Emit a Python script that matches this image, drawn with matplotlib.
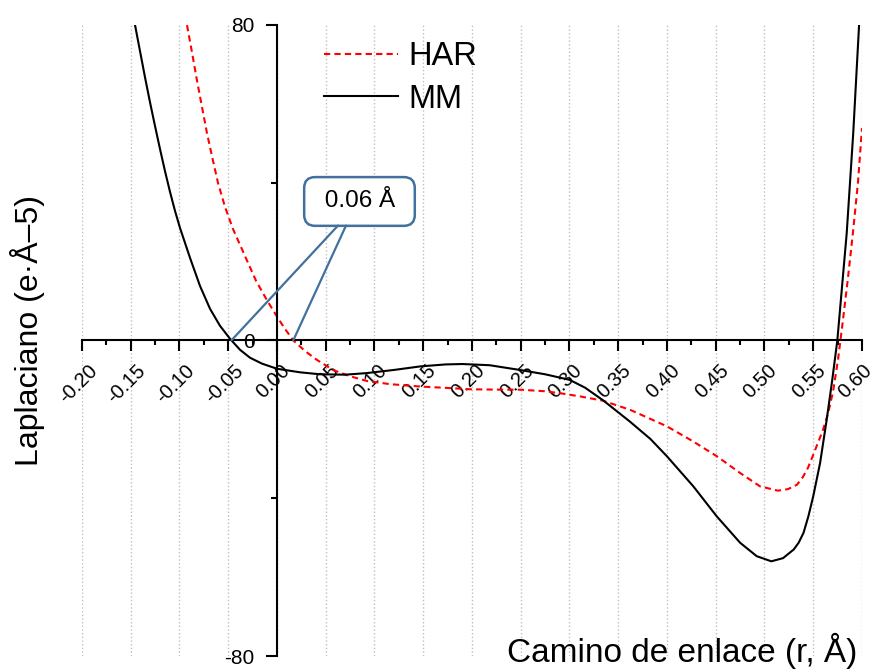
import matplotlib
matplotlib.use("Agg")
import matplotlib.pyplot as plt
import matplotlib.transforms as mtransforms
from matplotlib.ticker import MultipleLocator, FixedLocator
import numpy as np

plt.rcParams['font.family'] = ['Liberation Sans', 'DejaVu Sans']

# values (r in Angstrom, Laplacian)
mm_r = [-0.1456, -0.1405, -0.1354, -0.1303, -0.1251, -0.1200, -0.1149, -0.1097,
        -0.1046, -0.0995, -0.0892, -0.0790, -0.0687, -0.0585, -0.0482, -0.0379,
        -0.0277, -0.0154, 0.0, 0.0236, 0.044, 0.070, 0.092, 0.120, 0.147, 0.173,
        0.190, 0.218, 0.249, 0.275, 0.300, 0.316, 0.335, 0.362, 0.383, 0.400,
        0.427, 0.451, 0.475, 0.492, 0.507, 0.519, 0.530, 0.535, 0.540, 0.545,
        0.550, 0.557, 0.5638, 0.5695, 0.5747, 0.5843, 0.591, 0.597]
mm_L = [79.9, 73.3, 66.7, 60.4, 54.3, 48.5, 42.9, 37.6,
        32.8, 28.5, 20.9, 13.8, 8.0, 3.7, 0.4, -2.4,
        -4.4, -5.9, -7.2, -8.1, -8.6, -8.7, -8.3, -7.5, -6.6, -6.1,
        -6.0, -6.3, -7.5, -8.6, -10.0, -12.0, -15.3, -20.6, -25.0, -29.4,
        -37.0, -44.6, -51.3, -54.7, -56.0, -55.2, -53.0, -51.3, -48.8, -44.6,
        -39.5, -31.1, -20.1, -10.0, 0.0, 27.1, 52.5, 79.9]

har_r = [-0.0923, -0.0872, -0.0821, -0.0769, -0.0718, -0.0667, -0.0605, -0.0533,
         -0.0451, -0.0379, -0.0311, -0.0215, -0.0106, 0.0, 0.0082, 0.0167,
         0.0287, 0.0406, 0.0574, 0.0749, 0.0923, 0.1159, 0.1467, 0.1774, 0.1979,
         0.2287, 0.2492, 0.2749, 0.2903, 0.3108, 0.3344, 0.3621, 0.4000, 0.4267,
         0.4513, 0.4749, 0.4954, 0.5138, 0.5241, 0.5333, 0.5395, 0.5446, 0.5497,
         0.5549, 0.5600, 0.5651, 0.5703, 0.5754, 0.5805, 0.5856, 0.5908, 0.5959,
         0.6000]
har_L = [79.9, 73.0, 65.9, 59.1, 52.5, 46.7, 39.9, 33.8,
         28.2, 24.2, 20.4, 15.1, 10.3, 6.0, 2.9, 0.0,
         -2.7, -4.9, -7.5, -9.1, -10.3, -11.1, -11.7, -12.1, -12.4,
         -12.5, -12.5, -12.9, -13.4, -14.2, -15.3, -17.6, -21.8, -25.6,
         -29.4, -33.6, -37.0, -38.1, -37.7, -36.6, -34.6, -32.3, -29.2,
         -25.9, -22.7, -18.6, -13.0, -4.9, 5.2, 15.8, 27.5, 40.1,
         53.8]

x_ticks = np.arange(-0.20, 0.601, 0.05)
x_labels = ['-0.20', '-0.15', '-0.10', '-0.05', '0.00', '0.05', '0.10', '0.15',
            '0.20', '0.25', '0.30', '0.35', '0.40', '0.45', '0.50', '0.55', '0.60']
y_ticks = [-80, 0, 80]
y_labels = ['-80', '0', '80']

callout_text = ' 0.06 \u00c5 '
blue = '#41719C'


def zero_cross(r, L):
    r = np.asarray(r)
    L = np.asarray(L)
    i = np.where(L[:-1] * L[1:] <= 0)[0][0]
    if L[i] == 0:
        return r[i]
    return r[i] + (r[i + 1] - r[i]) * (0 - L[i]) / (L[i + 1] - L[i])


fig = plt.figure(figsize=(8.77, 6.72), dpi=100)
ax = fig.add_axes([82 / 877, 1 - 656 / 672, 780 / 877, 631.3 / 672])

ax.plot(har_r, har_L, color='red', lw=1.5, ls=(0, (3, 2)), label='HAR')
ax.plot(mm_r, mm_L, color='black', lw=1.5, label='MM')

ax.set_xlim(-0.2, 0.6)
ax.set_ylim(-80, 80)

# spines through the origin
for s in ['top', 'right']:
    ax.spines[s].set_visible(False)
ax.spines['left'].set_position(('data', 0))
ax.spines['bottom'].set_position(('data', 0))
ax.spines['left'].set_linewidth(1.5)
ax.spines['bottom'].set_linewidth(1.5)

ax.xaxis.set_major_locator(FixedLocator(x_ticks))
ax.set_xticklabels(x_labels, rotation=45, ha='center', va='top', fontsize=14.5)
ax.xaxis.set_minor_locator(MultipleLocator(0.025))
ax.yaxis.set_major_locator(FixedLocator(y_ticks))
ax.set_yticklabels(y_labels, fontsize=15)
ax.yaxis.set_minor_locator(FixedLocator([-40, 40]))

ax.tick_params(axis='x', which='major', direction='out', length=8, width=1.5, pad=7)
ax.tick_params(axis='x', which='minor', direction='out', length=3.6, width=1.5)
ax.tick_params(axis='y', which='major', direction='out', length=8, width=1.5, pad=8)
ax.tick_params(axis='y', which='minor', direction='out', length=4.5, width=1.5)

# nudge the rotated labels left, the last one a bit more so it stays inside
labs = ax.get_xticklabels()
for i, lab in enumerate(labs):
    dx = -4 if i < len(labs) - 1 else -7
    shift = mtransforms.ScaledTranslation(dx / 100, 0, fig.dpi_scale_trans)
    lab.set_transform(lab.get_transform() + shift)

ax.grid(axis='x', which='major', ls=':', color='#bfbfbf', lw=1)
ax.set_axisbelow(True)

ax.legend(loc='upper left', bbox_to_anchor=(0.272, 1.02), frameon=False,
          fontsize=23.5, handlelength=2.27, handletextpad=0.34, labelspacing=0.35)

# callout
ax.text(0.0846, 35.2, callout_text, fontsize=17.5, ha='center', va='center',
        bbox=dict(boxstyle='round,pad=0.55,rounding_size=0.45', fc='white',
                  ec=blue, lw=1.8))
ax.annotate('', xy=(zero_cross(mm_r, mm_L), 0), xytext=(0.0626, 29.1),
            arrowprops=dict(arrowstyle='-', color=blue, lw=1.6,
                            shrinkA=0, shrinkB=0))
ax.annotate('', xy=(zero_cross(har_r, har_L), 0), xytext=(0.0708, 29.1),
            arrowprops=dict(arrowstyle='-', color=blue, lw=1.6,
                            shrinkA=0, shrinkB=0))

fig.text(28 / 877, 1 - 330 / 672, 'Laplaciano (e\u00b7\u00c5\u20135)',
         rotation=90, ha='center', va='center', fontsize=23)
fig.text(857 / 877, 1 - 662 / 672, 'Camino de enlace (r, \u00c5)',
         ha='right', va='baseline', fontsize=24)

fig.savefig('out.png', dpi=100)
